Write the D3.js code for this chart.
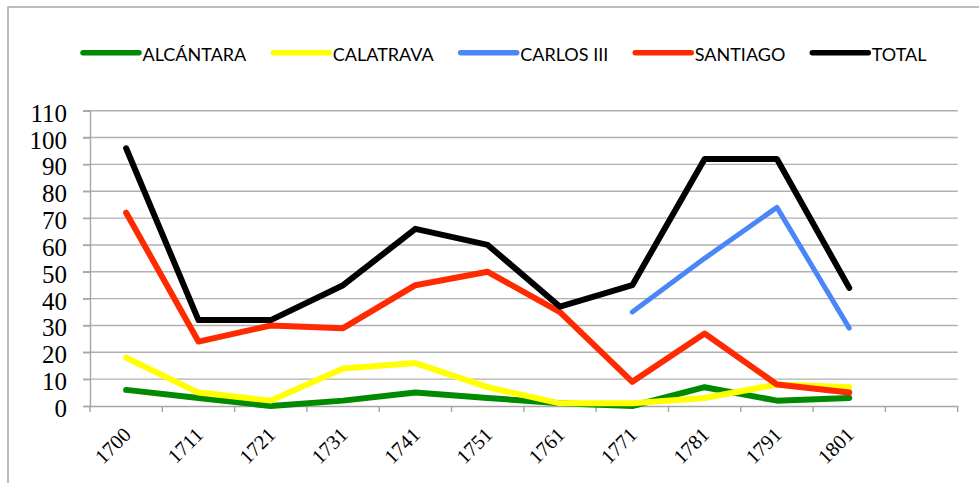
<!DOCTYPE html>
<html>
<head>
<meta charset="utf-8">
<script src="https://cdn.jsdelivr.net/npm/d3@7"></script>
<style>
  html, body { margin: 0; padding: 0; background: #fff; }
  svg { display: block; }
</style>
</head>
<body>
<svg id="chart" width="979" height="483"></svg>
<script>
// ---- data ----
const categories = ["1700","1711","1721","1731","1741","1751","1761","1771","1781","1791","1801",""];
const alcantara = [6, 3, 0, 2, 5, 3, 1, 0, 7, 2, 3];
const calatrava = [18, 5, 2, 14, 16, 7, 1, 1, 3, 8, 7];
const carlosIII = [null, null, null, null, null, null, null, 35, 55, 74, 29];
const santiago  = [72, 24, 30, 29, 45, 50, 35, 9, 27, 8, 5];
const total     = [96, 32, 32, 45, 66, 60, 37, 45, 92, 92, 44];
const seriesNames = ["ALCÁNTARA", "CALATRAVA", "CARLOS III", "SANTIAGO", "TOTAL"];
const yTicks = [0, 10, 20, 30, 40, 50, 60, 70, 80, 90, 100, 110];

// ---- styles ----
const seriesValues = [alcantara, calatrava, carlosIII, santiago, total];
const colors = ["#008a00", "#ffff00", "#4a86f8", "#ff2a00", "#000000"];
const widths = [6, 6, 5, 6, 6];

const svg = d3.select("#chart");

// outer chart border (only top & left visible in frame)
svg.append("path")
  .attr("d", "M8,483 L8,7 L979,7")
  .attr("fill", "none")
  .attr("stroke", "#a6a6a6")
  .attr("stroke-width", 1.5);

const plot = { left: 90, right: 957.7, top: 110.7, bottom: 406 };

const x = d3.scaleBand().domain(categories).range([plot.left, plot.right]).padding(0);
const y = d3.scaleLinear().domain([0, 110]).range([plot.bottom, plot.top]);
const cx = c => x(c) + x.bandwidth() / 2;

// gridlines
svg.append("g")
  .selectAll("line")
  .data(yTicks.filter(t => t > 0))
  .join("line")
  .attr("x1", plot.left - 7).attr("x2", plot.right)
  .attr("y1", d => y(d)).attr("y2", d => y(d))
  .attr("stroke", "#b0b0b0").attr("stroke-width", 1.4);

// y axis
const yAxis = svg.append("g").attr("transform", `translate(${plot.left},0)`)
  .call(d3.axisLeft(y).tickValues(yTicks).tickSize(7).tickFormat(d3.format("d")));
yAxis.select(".domain").attr("stroke", "#a6a6a6").attr("stroke-width", 1.4);
yAxis.selectAll(".tick line").attr("stroke", "#a6a6a6").attr("stroke-width", 1.4);
yAxis.selectAll(".tick text")
  .attr("x", -23).attr("dy", null).attr("y", 10.5)
  .attr("fill", "#000")
  .style("font-family", "'Liberation Serif', 'Times New Roman', serif")
  .style("font-size", "25px");

// x axis
const xAxis = svg.append("g").attr("transform", `translate(0,${plot.bottom})`)
  .call(d3.axisBottom(x).tickSize(0).tickFormat(""));
xAxis.select(".domain").attr("stroke", "#a6a6a6").attr("stroke-width", 1.4);
xAxis.selectAll(".tick").remove();
// tick marks at band boundaries
const boundaries = categories.map(c => x(c)).concat([plot.right]);
svg.append("g").selectAll("line").data(boundaries).join("line")
  .attr("x1", d => d).attr("x2", d => d)
  .attr("y1", plot.bottom).attr("y2", plot.bottom + 6)
  .attr("stroke", "#a6a6a6").attr("stroke-width", 1.4);

// x labels (rotated)
svg.append("g").selectAll("text")
  .data(categories.filter(c => c !== ""))
  .join("text")
  .attr("transform", d => `translate(${cx(d) + 6},${436}) rotate(-45)`)
  .attr("text-anchor", "end")
  .style("font-family", "'Liberation Serif', 'Times New Roman', serif")
  .style("font-size", "20.5px")
  .attr("fill", "#000")
  .text(d => d);

// series lines
const dataCats = categories.filter(c => c !== "");
const line = d3.line()
  .defined(d => d.v !== null)
  .x(d => cx(d.c))
  .y(d => y(d.v));

seriesValues.forEach((vals, i) => {
  const pts = dataCats.map((c, j) => ({ c, v: vals[j] }));
  svg.append("path")
    .datum(pts)
    .attr("d", line)
    .attr("fill", "none")
    .attr("stroke", colors[i])
    .attr("stroke-width", widths[i])
    .attr("stroke-linejoin", "round")
    .attr("stroke-linecap", "round");
});

// legend
const legend = svg.append("g");
const legendY = 52.7;
const lineLen = 56;
let lx = 83;
seriesNames.forEach((name, i) => {
  const g = legend.append("g");
  g.append("line")
    .attr("x1", lx).attr("x2", lx + lineLen)
    .attr("y1", legendY).attr("y2", legendY)
    .attr("stroke", colors[i]).attr("stroke-width", 5.5)
    .attr("stroke-linecap", "round");
  const t = g.append("text")
    .attr("x", lx + lineLen + 3.5)
    .attr("y", legendY + 8.5)
    .style("font-family", "Lato, 'Open Sans', sans-serif")
    .style("font-size", "18px")
    .attr("fill", "#000")
    .text(name);
  const w = t.node().getComputedTextLength();
  lx += lineLen + 3.5 + w + 27;
});
</script>
</body>
</html>
